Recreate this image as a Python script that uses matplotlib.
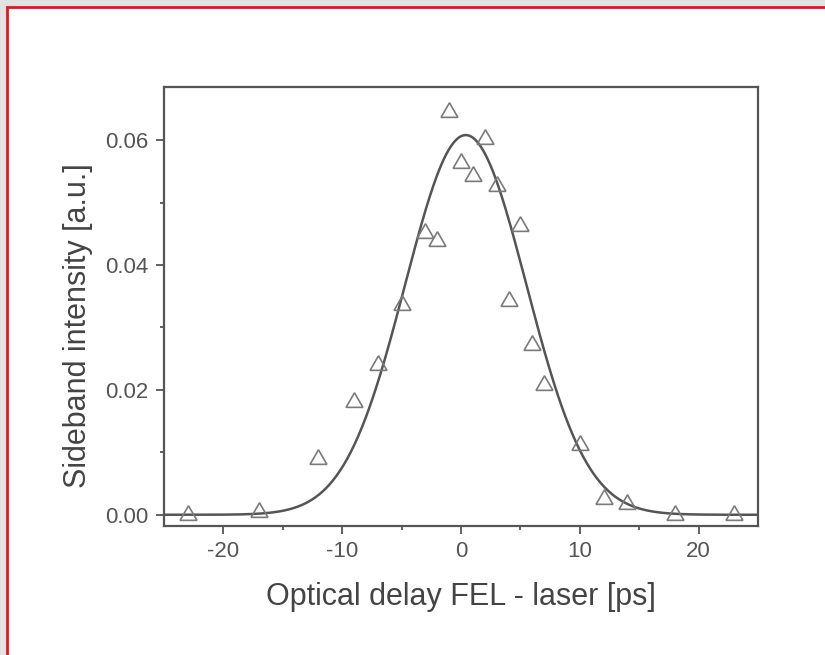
import numpy as np
import matplotlib
matplotlib.use("Agg")
import matplotlib.pyplot as plt
from matplotlib.patches import Rectangle

plt.rcParams['font.family'] = ['Liberation Sans', 'DejaVu Sans']

# measured sideband intensity vs optical delay
delay_ps = [-23, -17, -12, -9, -7, -5, -3, -2, -1, 0, 1, 2, 3, 4, 5, 6, 7, 10, 12, 14, 18, 23]
intensity = [0.0000, 0.0005, 0.0089, 0.0181, 0.0240, 0.0336, 0.0451, 0.0438, 0.0645, 0.0564,
             0.0542, 0.0602, 0.0526, 0.0342, 0.0462, 0.0272, 0.0208, 0.0112, 0.0025, 0.0017,
             0.0000, 0.0000]

# gaussian fit parameters
fit_amp = 0.0608
fit_center = 0.4
fit_sigma = 5.1

x_ticks = [-20, -10, 0, 10, 20]
y_ticks = [0.00, 0.02, 0.04, 0.06]

ink = '#555555'

fig = plt.figure(figsize=(8.25, 6.55), dpi=100)
fig.patch.set_facecolor('#e2e2e2')
# white page with red frame (screenshot look)
fig.patches.append(Rectangle((7 / 825, -0.1), 1.2, (655 - 7) / 655 + 0.1,
                             transform=fig.transFigure, facecolor='white',
                             edgecolor='#e8141c', linewidth=2, zorder=-1))

ax = fig.add_axes([164 / 825, (655 - 526) / 655, 594 / 825, 439 / 655])

xf = np.linspace(-25, 25, 500)
yf = fit_amp * np.exp(-(xf - fit_center) ** 2 / (2 * fit_sigma ** 2))
ax.plot(xf, yf, color=ink, lw=1.8, zorder=2)
ax.plot(delay_ps, intensity, linestyle='none', marker=(3, 0, 0), markersize=14,
        markerfacecolor='none', markeredgecolor='#7a7a7a', markeredgewidth=1.2, zorder=3)

ax.set_xlim(-25, 25)
ax.set_ylim(-0.0018, 0.0685)
ax.set_xticks(x_ticks)
ax.set_xticklabels([str(t) for t in x_ticks])
ax.set_yticks(y_ticks)
ax.set_yticklabels(['%.2f' % t for t in y_ticks])
ax.set_xticks([-15, -5, 5, 15], minor=True)
ax.set_yticks([0.01, 0.03, 0.05], minor=True)

ax.tick_params(which='major', direction='out', length=6, width=1.3, color=ink,
               labelsize=16, labelcolor='#555555', pad=5)
ax.tick_params(which='minor', direction='out', length=3, width=1.3, color=ink)
ax.tick_params(top=False, right=False)
for s in ax.spines.values():
    s.set_color(ink)
    s.set_linewidth(1.6)

ax.set_xlabel('Optical delay FEL - laser [ps]', fontsize=22, color='#444444', va='center')
ax.xaxis.set_label_coords(0.5, -0.162)
ax.set_ylabel('Sideband intensity [a.u.]', fontsize=22, color='#444444', va='center')
ax.yaxis.set_label_coords(-0.145, 0.456)

fig.savefig('out.png', dpi=100, facecolor=fig.get_facecolor())
